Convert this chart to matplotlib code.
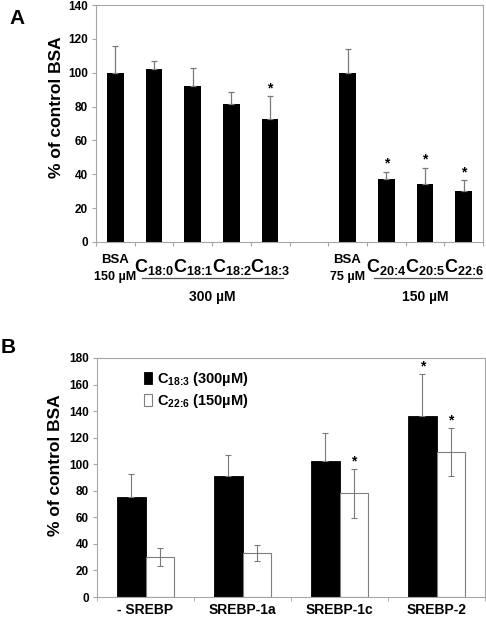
import numpy as np
import matplotlib

matplotlib.use("Agg")
import matplotlib.pyplot as plt
from matplotlib.patches import Patch

plt.rcParams["font.family"] = ["Liberation Sans", "DejaVu Sans"]
plt.rcParams["font.weight"] = "bold"
plt.rcParams["mathtext.fontset"] = "custom"
plt.rcParams["mathtext.rm"] = "Liberation Sans:bold"
plt.rcParams["mathtext.bf"] = "Liberation Sans:bold"
plt.rcParams["mathtext.default"] = "rm"

# panel A data (empty slot separates the two BSA groups)
a_labels = ["BSA\n150 µM", r"C$_{\text{18:0}}$", r"C$_{\text{18:1}}$", r"C$_{\text{18:2}}$",
            r"C$_{\text{18:3}}$", "", "BSA\n75 µM", r"C$_{\text{20:4}}$", r"C$_{\text{20:5}}$",
            r"C$_{\text{22:6}}$"]
a_values = [100, 102, 92, 81.5, 72.5, np.nan, 100, 37.5, 34, 30]
a_err = [16, 5, 10.5, 7, 13.5, np.nan, 14, 4, 10, 6.5]
a_star = [False, False, False, False, True, False, False, True, True, True]
a_groups = [("300 µM", 1, 4), ("150 µM", 7, 9)]
a_yticks = [0, 20, 40, 60, 80, 100, 120, 140]

# panel B data
b_groups = ["- SREBP", "SREBP-1a", "SREBP-1c", "SREBP-2"]
b_c183 = [75, 91.5, 102.5, 136]
b_c183_err = [17.5, 15.8, 20.7, 32]
b_c183_star = [False, False, False, True]
b_c226 = [30, 33, 78, 109]
b_c226_err = [6.7, 6, 18.2, 18]
b_c226_star = [False, False, True, True]
b_yticks = [0, 20, 40, 60, 80, 100, 120, 140, 160, 180]

W, H = 486, 618
fig = plt.figure(figsize=(W / 100, H / 100), dpi=100)
SPINE = "#a6a6a6"
ERR = "#7a7a7a"


def px_axes(left, top, right, bottom):
    return fig.add_axes([left / W, 1 - bottom / H, (right - left) / W, (bottom - top) / H])


def style(ax):
    for s in ax.spines.values():
        s.set_color(SPINE)
        s.set_linewidth(0.8)
    ax.tick_params(axis="y", length=3, color=SPINE, labelsize=8.5, pad=3)
    for t in ax.get_yticklabels():
        t.set_fontweight("bold")


# ---- panel A ----
axA = px_axes(96, 5, 483, 242)
xa = np.arange(len(a_labels))
axA.bar(xa, a_values, width=0.43, color="black")
up = np.array(a_err)
axA.errorbar(xa, a_values, yerr=[np.zeros_like(up), up], fmt="none", ecolor=ERR,
             elinewidth=0.9, capsize=2.5, capthick=0.9)
for x, v, e, s in zip(xa, a_values, a_err, a_star):
    if s:
        axA.text(x, v + e + 0.5, "*", ha="center", va="bottom", fontsize=10, fontweight="bold")
axA.set_xlim(-0.5, len(a_labels) - 0.5)
axA.set_ylim(0, 140)
axA.set_yticks(a_yticks)
axA.set_xticks(np.arange(len(a_labels) + 1) - 0.5)
axA.set_xticklabels([])
axA.tick_params(axis="x", length=3, color=SPINE)
style(axA)

tr = axA.get_xaxis_transform()


def yfrac(ypx):
    return (242 - ypx) / 237


for x, lab in zip(xa, a_labels):
    if lab.startswith("BSA"):
        top, bot = lab.split("\n")
        axA.text(x, yfrac(260), top, transform=tr, ha="center", va="center", fontsize=9.5)
        axA.text(x, yfrac(277), bot, transform=tr, ha="center", va="center", fontsize=9)
    elif lab:
        axA.text(x, yfrac(267), lab, transform=tr, ha="center", va="center", fontsize=13)
for name, i0, i1 in a_groups:
    axA.plot([i0 - 0.31, i1 + 0.33 if i1 < 9 else i1 + 0.47], [yfrac(278)] * 2, transform=tr,
             color="#555555", lw=0.9, clip_on=False)
    axA.text((i0 + i1) / 2, yfrac(297), name, transform=tr, ha="center", va="center", fontsize=10)

fig.text(57 / W, 1 - 107 / H, "% of control BSA", rotation=90, ha="center", va="center",
         fontsize=12.5)
fig.text(17 / W, 1 - 18 / H, "A", ha="center", va="center", fontsize=15)

# ---- panel B ----
axB = px_axes(97, 358, 485, 597)
xb = np.arange(len(b_groups))
bw = 0.29
axB.bar(xb - bw / 2, b_c183, width=bw, color="black", edgecolor="black", lw=0.6)
axB.bar(xb + bw / 2, b_c226, width=bw, color="white", edgecolor="#7f7f7f", lw=0.8)
e1 = np.array(b_c183_err)
axB.errorbar(xb - bw / 2, b_c183, yerr=[np.zeros_like(e1), e1], fmt="none", ecolor=ERR,
             elinewidth=0.8, capsize=2.5, capthick=0.8)
axB.errorbar(xb + bw / 2, b_c226, yerr=b_c226_err, fmt="none", ecolor=ERR,
             elinewidth=0.8, capsize=2.5, capthick=0.8)
for x, v, e, s in zip(xb - bw / 2, b_c183, b_c183_err, b_c183_star):
    if s:
        axB.text(x, v + e + 0.5, "*", ha="center", va="bottom", fontsize=10)
for x, v, e, s in zip(xb + bw / 2, b_c226, b_c226_err, b_c226_star):
    if s:
        axB.text(x, v + e + 0.5, "*", ha="center", va="bottom", fontsize=10)
axB.set_xlim(-0.5, len(b_groups) - 0.5)
axB.set_ylim(0, 180)
axB.set_yticks(b_yticks)
axB.set_xticks(xb)
axB.set_xticklabels(b_groups, fontsize=10, fontweight="bold")
axB.set_xticks(np.arange(len(b_groups) + 1) - 0.5, minor=True)
axB.tick_params(axis="x", which="major", length=0, pad=4)
axB.tick_params(axis="x", which="minor", length=3, color=SPINE)
style(axB)

handles = [Patch(facecolor="black", edgecolor="black", lw=0.6),
           Patch(facecolor="white", edgecolor="#7f7f7f", lw=0.8)]
leg = axB.legend(handles, [r"C$_{\text{18:3}}$ (300µM)", r"C$_{\text{22:6}}$ (150µM)"],
                 loc="upper left", bbox_to_anchor=(0.105, 0.975), frameon=False, fontsize=10.5,
                 handlelength=0.6, handleheight=0.9, handletextpad=0.35, labelspacing=0.3,
                 borderaxespad=0)

fig.text(55 / W, 1 - 465 / H, "% of control BSA", rotation=90, ha="center", va="center",
         fontsize=12.5)
fig.text(8 / W, 1 - 347 / H, "B", ha="center", va="center", fontsize=15)

fig.savefig("out.png", dpi=100)
